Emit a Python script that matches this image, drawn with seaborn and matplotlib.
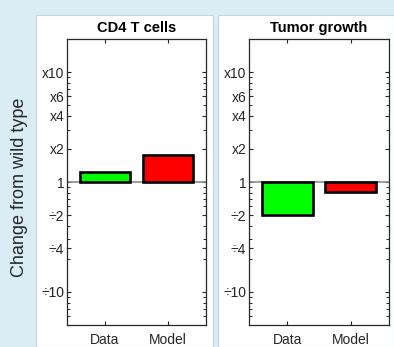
import numpy as np
import pandas as pd
import matplotlib
matplotlib.use("Agg")
import matplotlib.pyplot as plt
from matplotlib.patches import Rectangle
import seaborn as sns

# Fold change relative to wild type
categories = ["Data", "Model"]
cd4_values = [1.23, 1.75]
tumor_values = [0.5, 0.81]
panel_titles = ["CD4 T cells", "Tumor growth"]
bar_colors = ["#00ff00", "#ff0000"]

major_folds = [1 / 10, 1 / 4, 1 / 2, 1, 2, 4, 6, 10]
major_labels = ["\u00f710", "\u00f74", "\u00f72", "1", "x2", "x4", "x6", "x10"]
minor_folds = [0.06, 0.07, 0.08, 0.09, 0.2, 0.3, 0.4, 0.6, 0.7, 0.8, 0.9,
               3, 5, 7, 8, 9]
fold_limit = 20

sns.set_theme(style="white")
plt.rcParams["font.family"] = ["Liberation Sans", "DejaVu Sans"]
ink = "#262626"

fig = plt.figure(figsize=(3.94, 3.47), dpi=100)
fig.patch.set_facecolor("#daedf5")

W, H = 394, 347
# white panel backgrounds
for x0, x1 in [(36, 213), (218, 394)]:
    fig.patches.append(Rectangle((x0 / W, 0), (x1 - x0) / W, (H - 15) / H,
                                 transform=fig.transFigure, facecolor="white",
                                 edgecolor="#c5d5dd", linewidth=0.8, zorder=-10))

axes_px = [(67, 206), (249, 389)]
top_px, bottom_px = 39, 325

for (x0, x1), title, vals in zip(axes_px, panel_titles, [cd4_values, tumor_values]):
    ax = fig.add_axes([x0 / W, (H - bottom_px) / H, (x1 - x0) / W,
                       (bottom_px - top_px) / H])
    df = pd.DataFrame({"group": categories, "log2fc": np.log2(vals)})
    ax.axhline(0, color="#8c8c8c", linewidth=1.2, zorder=1)
    sns.barplot(data=df, x="group", y="log2fc", hue="group", palette=bar_colors,
                saturation=1, edgecolor="black", linewidth=1.9, width=0.8,
                legend=False, ax=ax, zorder=2)
    ax.set_xlim(-0.6, 1.6)
    lim = np.log2(fold_limit)
    ax.set_ylim(-lim, lim)
    ax.set_yticks(np.log2(major_folds))
    ax.set_yticklabels(major_labels)
    ax.set_yticks(np.log2(minor_folds), minor=True)
    ax.set_xlabel("")
    ax.set_ylabel("")
    ax.set_title(title, fontsize=10.5, fontweight="bold", color="black", pad=5)
    for s in ax.spines.values():
        s.set_color(ink)
        s.set_linewidth(0.9)
        s.set_visible(True)
    ax.tick_params(axis="both", which="major", direction="in", length=3.2,
                   width=0.8, color=ink, labelcolor=ink, labelsize=10,
                   left=True, right=True, top=True, bottom=True, pad=2)
    ax.tick_params(axis="x", which="major", pad=6)
    ax.tick_params(axis="y", which="minor", direction="in", length=2.0,
                   width=0.7, color=ink, left=True, right=True)
    ax.set_facecolor("white")

fig.text(20 / W, (H - 187) / H, "Change from wild type", rotation=90,
         ha="center", va="center", fontsize=13, color=ink)

fig.savefig("out.png", dpi=100)
